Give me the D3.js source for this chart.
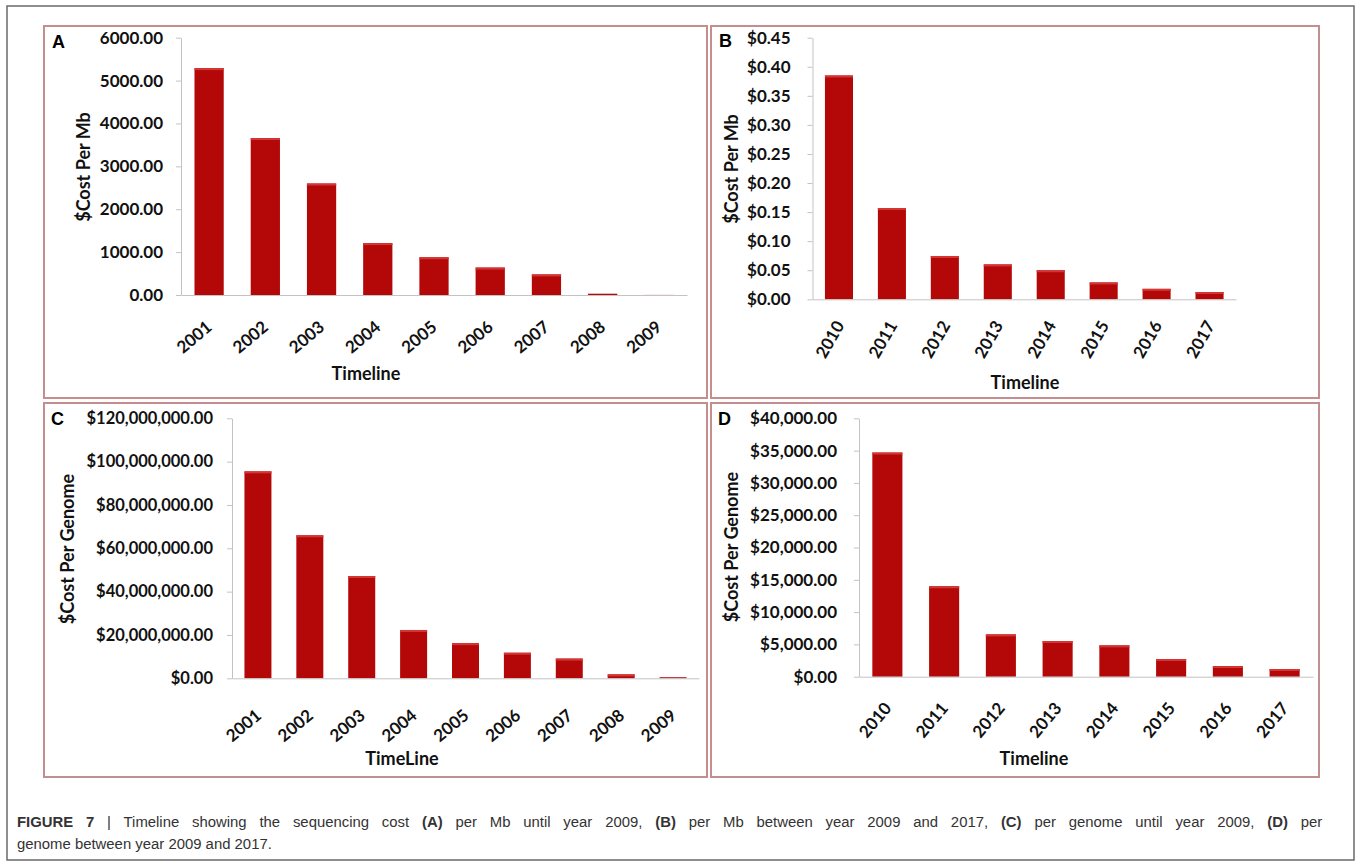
<!DOCTYPE html>
<html>
<head>
<meta charset="utf-8">
<script src="https://cdn.jsdelivr.net/npm/d3@7"></script>
<style>
  html, body { margin: 0; padding: 0; background: #fff; }
  svg { display: block; }
</style>
</head>
<body>
<svg id="chart" width="1357" height="864"></svg>
<script>
// ---------------- DATA ----------------
const yearsEarly = ["2001", "2002", "2003", "2004", "2005", "2006", "2007", "2008", "2009"];
const yearsLate = ["2010", "2011", "2012", "2013", "2014", "2015", "2016", "2017"];

const costPerMbEarly = [5290, 3660, 2600, 1210, 880, 640, 480, 30, 2];
const costPerMbLate = [0.385, 0.157, 0.0745, 0.060, 0.050, 0.029, 0.018, 0.0125];
const costPerGenomeEarly = [95500000, 66000000, 47200000, 22300000, 16200000, 11800000, 9100000, 1800000, 500000];
const costPerGenomeLate = [34700, 14000, 6550, 5520, 4850, 2730, 1650, 1190];

const ticksA = [0, 1000, 2000, 3000, 4000, 5000, 6000];
const ticksB = [0, 0.05, 0.10, 0.15, 0.20, 0.25, 0.30, 0.35, 0.40, 0.45];
const ticksC = [0, 20000000, 40000000, 60000000, 80000000, 100000000, 120000000];
const ticksD = [0, 5000, 10000, 15000, 20000, 25000, 30000, 35000, 40000];

const captionBold = ["FIGURE 7", "(A)", "(B)", "(C)", "(D)"];

// ---------------- LAYOUT ----------------
const svg = d3.select("#chart");
const BAR = "#b40707";
const BAR_HI = "#d43636";
const AXIS = "#c3c3c3";
const TXT = "#111";
const CHART_FONT = "Lato, 'Open Sans', sans-serif";

// outer frame
svg.append("rect").attr("x", 7).attr("y", 6).attr("width", 1347).attr("height", 854)
  .attr("fill", "#fff").attr("stroke", "#6a6a6a").attr("stroke-width", 1.5);

const panels = [
  { letter: "A", box: [44, 26, 707, 398], cats: yearsEarly, vals: costPerMbEarly, ticks: ticksA,
    fmt: d3.format(".2f"), xr: [181, 687], yr: [295, 37.7], pad: 0.48, tickPad: 13, tickFs: 17,
    rot: 40, lblDx: 4, lblDy: 34, yLabel: "$Cost Per Mb", yLabelPos: [83, 167],
    xLabel: "Timeline", xLabelPos: [366, 373], letterPos: [52, 48] },
  { letter: "B", box: [711, 26, 1319, 398], cats: yearsLate, vals: costPerMbLate, ticks: ticksB,
    fmt: v => "$" + d3.format(".2f")(v), xr: [812.5, 1236], yr: [299.3, 37.7], pad: 0.47, tickPad: 17, tickFs: 17,
    rot: 60, lblDx: 6, lblDy: 26, yLabel: "$Cost Per Mb", yLabelPos: [731, 169],
    xLabel: "Timeline", xLabelPos: [1025, 382], letterPos: [719, 47] },
  { letter: "C", box: [44, 403, 707, 777], cats: yearsEarly, vals: costPerGenomeEarly, ticks: ticksC,
    fmt: d3.format("$,.2f"), xr: [232, 699], yr: [678.3, 418.3], pad: 0.48, tickPad: 14, tickFs: 16.5,
    rot: 40, lblDx: 4.5, lblDy: 39, yLabel: "$Cost Per Genome", yLabelPos: [67, 549],
    xLabel: "TimeLine", xLabelPos: [402, 758], letterPos: [51, 425] },
  { letter: "D", box: [711, 403, 1319, 777], cats: yearsLate, vals: costPerGenomeLate, ticks: ticksD,
    fmt: d3.format("$,.2f"), xr: [859, 1313], yr: [676.7, 418.3], pad: 0.47, tickPad: 17, tickFs: 17,
    rot: 50, lblDx: 5, lblDy: 32, yLabel: "$Cost Per Genome", yLabelPos: [731, 547],
    xLabel: "Timeline", xLabelPos: [1034, 758], letterPos: [718, 425] }
];

panels.forEach(p => {
  const g = svg.append("g");
  const [x0, y0, x1, y1] = p.box;
  g.append("rect").attr("x", x0).attr("y", y0).attr("width", x1 - x0).attr("height", y1 - y0)
    .attr("fill", "#fff").attr("stroke", "#c48e8e").attr("stroke-width", 2);

  const x = d3.scaleBand().domain(p.cats).range(p.xr).paddingInner(p.pad).paddingOuter(p.pad / 2);
  const y = d3.scaleLinear().domain([p.ticks[0], p.ticks[p.ticks.length - 1]]).range(p.yr);

  // bars
  const data = p.cats.map((c, i) => ({ c, v: p.vals[i] }));
  g.selectAll("rect.bar").data(data).join("rect").attr("class", "bar")
    .attr("x", d => x(d.c)).attr("width", x.bandwidth())
    .attr("y", d => y(d.v)).attr("height", d => y(0) - y(d.v))
    .attr("fill", BAR);
  g.selectAll("rect.hi").data(data.filter(d => y(0) - y(d.v) > 3)).join("rect").attr("class", "hi")
    .attr("x", d => x(d.c)).attr("width", x.bandwidth())
    .attr("y", d => y(d.v)).attr("height", 2)
    .attr("fill", BAR_HI);

  // y axis
  const ya = g.append("g").attr("transform", `translate(${p.xr[0]},0)`)
    .call(d3.axisLeft(y).tickValues(p.ticks).tickFormat(p.fmt).tickSize(5).tickSizeOuter(0).tickPadding(p.tickPad));
  ya.select(".domain").attr("stroke", AXIS);
  ya.selectAll(".tick line").attr("stroke", AXIS);
  ya.selectAll(".tick text").attr("fill", TXT).style("font-family", CHART_FONT)
    .style("font-weight", "bold").style("font-size", p.tickFs + "px");

  // x axis
  const xa = g.append("g").attr("transform", `translate(0,${p.yr[0]})`)
    .call(d3.axisBottom(x).tickSize(0).tickSizeOuter(0));
  xa.select(".domain").attr("stroke", AXIS);
  xa.selectAll(".tick text").attr("fill", TXT).style("font-family", CHART_FONT)
    .style("font-weight", "bold").style("font-size", "17px")
    .attr("x", 0).attr("y", 0).attr("dy", 0).attr("text-anchor", "end")
    .attr("transform", `translate(${p.lblDx},${p.lblDy}) rotate(${-p.rot})`);

  // axis titles
  g.append("text").attr("transform", `translate(${p.yLabelPos[0]},${p.yLabelPos[1]}) rotate(-90)`)
    .attr("text-anchor", "middle").attr("dominant-baseline", "central")
    .style("font-family", CHART_FONT).style("font-weight", "bold").style("font-size", "18px")
    .attr("fill", TXT).text(p.yLabel);
  g.append("text").attr("x", p.xLabelPos[0]).attr("y", p.xLabelPos[1])
    .attr("text-anchor", "middle").attr("dominant-baseline", "central")
    .style("font-family", CHART_FONT).style("font-weight", "bold").style("font-size", "18px")
    .attr("fill", TXT).text(p.xLabel);

  // panel letter
  g.append("text").attr("x", p.letterPos[0]).attr("y", p.letterPos[1])
    .style("font-family", "'Liberation Sans', Arial, sans-serif").style("font-weight", "bold")
    .style("font-size", "18px").attr("fill", "#000").text(p.letter);
});

// ---------------- CAPTION (justified first line, condensed face) ----------------
const line1 = [
  ["FIGURE 7", true], [" | Timeline showing the sequencing cost ", false], ["(A)", true],
  [" per Mb until year 2009, ", false], ["(B)", true], [" per Mb between year 2009 and 2017, ", false],
  ["(C)", true], [" per genome until year 2009, ", false], ["(D)", true], [" per", false]
];
const line2 = [["genome between year 2009 and 2017.", false]];

function caption(parts, yPos) {
  const g = svg.append("g").attr("transform", `translate(17,${yPos})`);
  const t = g.append("text").attr("x", 0).attr("y", 0)
    .style("font-family", "'Liberation Sans', Arial, sans-serif")
    .style("font-size", "15.5px").attr("fill", "#333").attr("xml:space", "preserve");
  parts.forEach(([s, b]) => {
    t.append("tspan").style("font-weight", b && captionBold.includes(s) ? "bold" : "normal").text(s);
  });
  return { g, t };
}
const c1 = caption(line1, 827);
const c2 = caption(line2, 849);
const n2 = c2.t.node().getComputedTextLength();
const k = 255 / n2;                       // horizontal condensation of the face
c2.g.attr("transform", `translate(17,849) scale(${k},1)`);
const n1 = c1.t.node().getComputedTextLength();
const spaces = line1.map(d => d[0]).join("").split(" ").length - 1;
const ws = Math.max(0, (1306 / k - n1) / spaces);
c1.t.style("word-spacing", ws + "px");
c1.g.attr("transform", `translate(17,827) scale(${k},1)`);
</script>
</body>
</html>
